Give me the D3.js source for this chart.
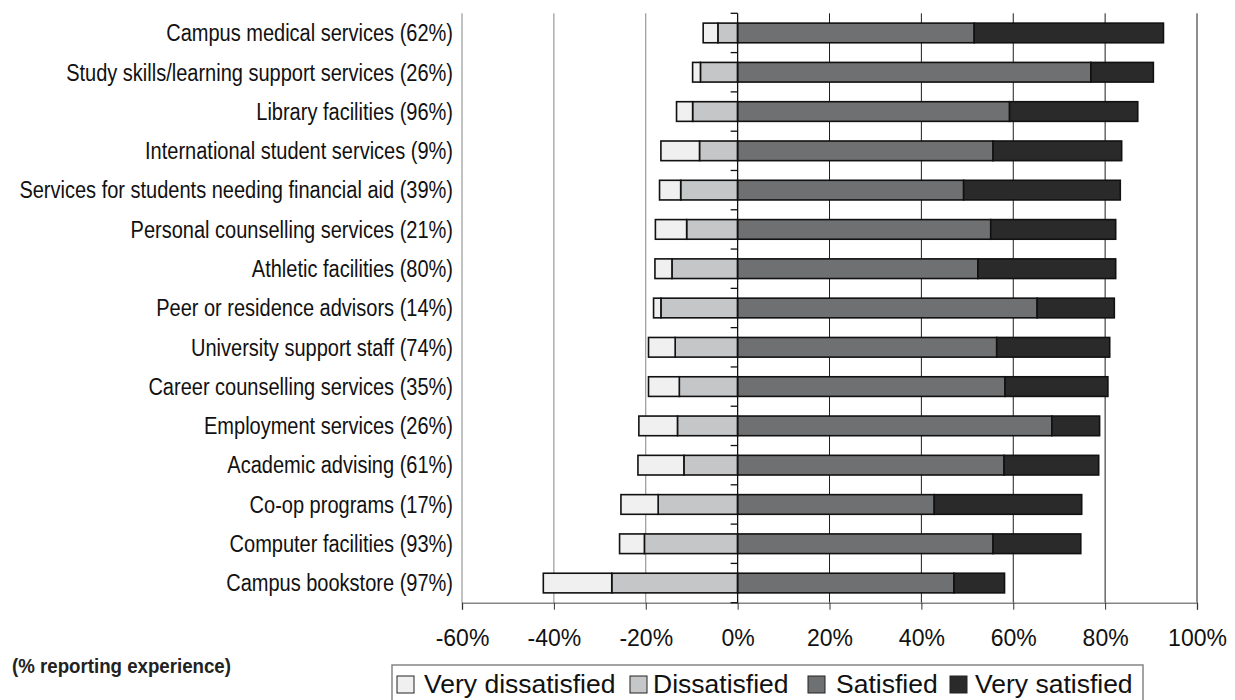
<!DOCTYPE html>
<html>
<head>
<meta charset="utf-8">
<script src="https://cdn.jsdelivr.net/npm/d3@7"></script>
<style>
  html, body { margin: 0; padding: 0; background: #fff; }
  svg { display: block; }
  .cat { font-family: 'Liberation Sans', Arial, sans-serif; font-size: 23px; fill: #111; }
  .tick-label { font-family: 'Liberation Sans', Arial, sans-serif; font-size: 23px; fill: #111; }
  .legend-text { font-family: 'Liberation Sans', Arial, sans-serif; font-size: 26.5px; fill: #111; }
  .note { font-family: 'Liberation Sans', Arial, sans-serif; font-size: 21px; font-weight: bold; fill: #222; }
</style>
</head>
<body>
<svg id="chart" width="1235" height="700"></svg>
<script>
// Services rated, with share of students reporting experience of each
const categories = [
  "Campus medical services (62%)",
  "Study skills/learning support services (26%)",
  "Library facilities (96%)",
  "International student services (9%)",
  "Services for students needing financial aid (39%)",
  "Personal counselling services (21%)",
  "Athletic facilities (80%)",
  "Peer or residence advisors (14%)",
  "University support staff (74%)",
  "Career counselling services (35%)",
  "Employment services (26%)",
  "Academic advising (61%)",
  "Co-op programs (17%)",
  "Computer facilities (93%)",
  "Campus bookstore (97%)"
];

// Percent of respondents in each satisfaction level
const veryDissatisfied = [3.2, 1.7, 3.5, 8.4, 4.6, 6.8, 3.7, 1.6, 5.8, 6.7, 8.4, 10.0, 8.1, 5.4, 14.9];
const dissatisfied     = [4.3, 8.1, 9.8, 8.3, 12.4, 11.1, 14.3, 16.7, 13.6, 12.7, 13.1, 11.7, 17.3, 20.3, 27.4];
const satisfied        = [51.5, 76.9, 59.2, 55.6, 49.2, 55.1, 52.3, 65.2, 56.4, 58.2, 68.4, 58.0, 42.8, 55.6, 47.1];
const verySatisfied    = [41.2, 13.6, 27.9, 28.0, 34.1, 27.2, 30.0, 16.8, 24.6, 22.4, 10.4, 20.6, 32.1, 19.1, 11.0];

const seriesNames = ["Very dissatisfied", "Dissatisfied", "Satisfied", "Very satisfied"];
const xTicks = [-60, -40, -20, 0, 20, 40, 60, 80, 100];
const noteText = "(% reporting experience)";

const colors = {
  "Very dissatisfied": "#f0f0f0",
  "Dissatisfied": "#c5c6c8",
  "Satisfied": "#6f7072",
  "Very satisfied": "#2a2a2a"
};

const plot = { left: 462, right: 1197, top: 13.3, bottom: 602.7 };
const narrow = 0.87;   // horizontal squeeze for the condensed label face

const svg = d3.select("#chart");

const x = d3.scaleLinear().domain([-60, 100]).range([plot.left, plot.right]);
const y = d3.scaleBand().domain(categories).range([plot.top, plot.bottom])
  .paddingInner(0.5).paddingOuter(0.25);

// Diverging segments: dissatisfaction stacks leftward from zero, satisfaction rightward
const segments = [];
categories.forEach((c, i) => {
  const d = dissatisfied[i], vd = veryDissatisfied[i];
  const s = satisfied[i], vs = verySatisfied[i];
  segments.push({ cat: c, key: "Dissatisfied", x0: -d, x1: 0 });
  segments.push({ cat: c, key: "Very dissatisfied", x0: -(d + vd), x1: -d });
  segments.push({ cat: c, key: "Satisfied", x0: 0, x1: s });
  segments.push({ cat: c, key: "Very satisfied", x0: s, x1: s + vs });
});

// Vertical gridlines
svg.append("g").selectAll("line")
  .data(xTicks.filter(t => t !== 0))
  .join("line")
  .attr("x1", d => x(d)).attr("x2", d => x(d))
  .attr("y1", plot.top).attr("y2", plot.bottom)
  .attr("stroke", d => d < 0 ? "#858585" : "#1e1e1e")
  .attr("stroke-width", 1);

// Bars
svg.append("g").selectAll("rect")
  .data(segments)
  .join("rect")
  .attr("x", d => x(d.x0))
  .attr("width", d => x(d.x1) - x(d.x0))
  .attr("y", d => y(d.cat))
  .attr("height", y.bandwidth())
  .attr("fill", d => colors[d.key])
  .attr("stroke", "#111")
  .attr("stroke-width", 1.6);

// Bottom axis
const xAxis = d3.axisBottom(x).tickValues(xTicks).tickSize(7).tickFormat(d => d + "%");
const gx = svg.append("g").attr("transform", `translate(0,${plot.bottom})`).call(xAxis);
gx.attr("font-size", null).attr("font-family", null);
gx.select(".domain").attr("stroke", "#858585").attr("stroke-width", 1.5);
gx.selectAll(".tick line").attr("stroke", "#333");
gx.selectAll(".tick text").attr("class", "tick-label").attr("dy", null).attr("y", 43);

// Category axis at zero
const yAxisLine = svg.append("g");
yAxisLine.append("line")
  .attr("x1", x(0)).attr("x2", x(0))
  .attr("y1", plot.top).attr("y2", plot.bottom)
  .attr("stroke", "#111").attr("stroke-width", 1.3);
const step = y.step();
yAxisLine.selectAll("line.cat-tick")
  .data(d3.range(categories.length + 1))
  .join("line")
  .attr("class", "cat-tick")
  .attr("x1", x(0) - 7).attr("x2", x(0))
  .attr("y1", i => plot.top + i * step).attr("y2", i => plot.top + i * step)
  .attr("stroke", "#111").attr("stroke-width", 1.3);

// Category labels, right-aligned beside the plot
svg.append("g").selectAll("g")
  .data(categories)
  .join("g")
  .attr("transform", d => `translate(453,${y(d) + y.bandwidth() / 2}) scale(${narrow},1)`)
  .append("text")
  .attr("class", "cat")
  .attr("dy", "0.36em")
  .attr("text-anchor", "end")
  .text(d => d);

// Note
svg.append("g").attr("transform", `translate(12,673) scale(0.89,1)`)
  .append("text").attr("class", "note").text(noteText);

// Legend
const legend = svg.append("g");
legend.append("rect")
  .attr("x", 392).attr("y", 665).attr("width", 751).attr("height", 45)
  .attr("fill", "#fff").attr("stroke", "#858585").attr("stroke-width", 1.5);
const swatchX = [397, 630, 808, 950];
const labelX = [424, 653, 836, 975];
seriesNames.forEach((name, i) => {
  legend.append("rect")
    .attr("x", swatchX[i]).attr("y", 676).attr("width", 17).attr("height", 17)
    .attr("fill", colors[name]).attr("stroke", "#222").attr("stroke-width", 1);
  legend.append("text").attr("class", "legend-text")
    .attr("x", labelX[i]).attr("y", 693).text(name);
});
</script>
</body>
</html>
